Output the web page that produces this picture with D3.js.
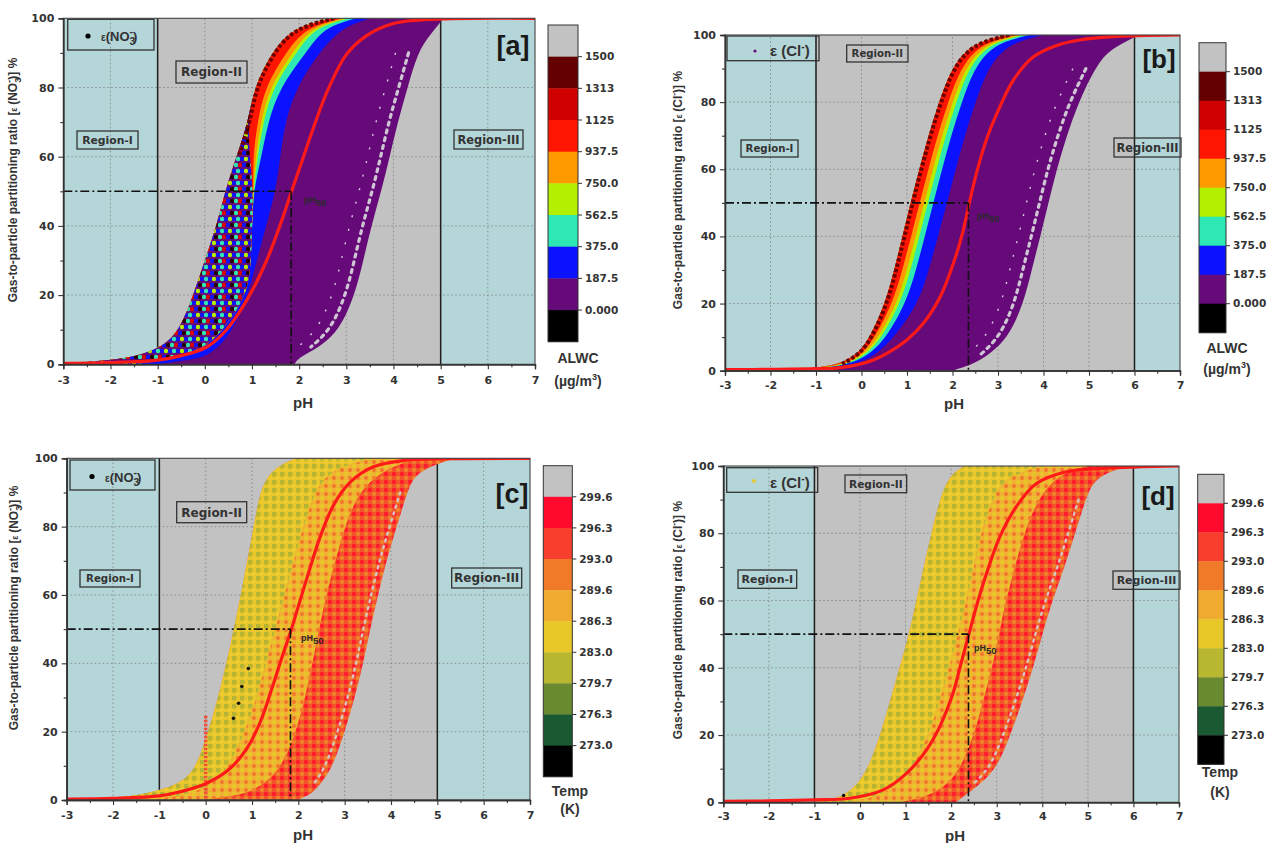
<!DOCTYPE html>
<html>
<head>
<meta charset="utf-8">
<script src="https://cdn.jsdelivr.net/npm/d3@7/dist/d3.min.js"></script>
<style>
 html,body{margin:0;padding:0;background:#fff;}
 text{font-family:"Liberation Sans",Arial,sans-serif;font-weight:bold;fill:#333;}
 text.dv{font-family:"DejaVu Sans",Verdana,sans-serif;}
</style>
</head>
<body>
<svg id="fig" width="1268" height="843"></svg>
<script>
// ---------------- DATA ----------------
const epsLevels = [0,1,2,5,10,20,30,40,50,60,70,80,90,95,98,100];
const pHTicks = [-3,-2,-1,0,1,2,3,4,5,6,7];
const pHMinorTicks = [-2.5,-1.5,-0.5,0.5,1.5,2.5,3.5,4.5,5.5,6.5];
const epsTicks = [0,20,40,60,80,100];
const epsMinorTicks = [10,30,50,70,90];

const alwcLabels = ["1500","1313","1125","937.5","750.0","562.5","375.0","187.5","0.000"];
const alwcColors = ["#c2c2c2","#650000","#d00000","#ff1500","#ff9900","#b3f000","#2de8b4","#0a12ff","#650a78","#000000"];
const tempLabels = ["299.6","296.3","293.0","289.6","286.3","283.0","279.7","276.3","273.0"];
const tempColors = ["#c2c2c2","#ff0a2c","#f83e2c","#f07a28","#f0aa30","#e8c828","#b8b830","#6a8a30","#1a5a32","#000000"];

// panel a : pH of each band boundary at epsLevels
const aEdgeLeft        = [-3.0,-2.2,-1.5,-0.88,-0.53,-0.24,0.0,0.25,0.43,0.67,0.92,1.04,1.42,1.73,2.1,2.7];
const aMixedRight      = [-1.5,-1.0,-0.5,0.0,0.4,0.9,0.98,1.0,1.03,0.95,0.92,1.04,1.42,1.73,2.1,2.7];
const aRedRight        = [-1.5,-1.0,-0.5,0.0,0.4,0.9,0.98,1.0,1.03,1.02,1.12,1.27,1.72,2.0,2.35,2.9];
const aOrangeRight     = [-1.5,-1.0,-0.5,0.0,0.4,0.9,0.98,1.0,1.03,1.08,1.19,1.37,1.86,2.12,2.45,3.0];
const aYellowGreenRight= [-1.5,-1.0,-0.5,0.0,0.4,0.9,0.98,1.0,1.03,1.12,1.24,1.44,1.94,2.2,2.52,3.05];
const aCyanRight       = [-1.5,-1.0,-0.5,0.0,0.4,0.9,0.98,1.0,1.03,1.2,1.34,1.59,2.14,2.4,2.7,3.2];
const aBlueRight       = [-1.0,-0.5,0.0,0.3,0.6,0.92,1.1,1.3,1.5,1.6,1.7,1.94,2.42,2.75,3.05,3.5];
const aPurpleRight     = [1.9,1.95,2.01,2.44,2.86,3.18,3.36,3.53,3.74,3.92,4.09,4.3,4.51,4.76,4.95,5.05];
const aFitPH  = [-3,-2,-1,-0.5,0.04,0.46,0.95,1.31,1.59,1.84,2.08,2.32,2.6,3.0,3.43,4.0,5.0,7.0];
const aFitEps = [0.3,0.5,1.2,2.5,5,10,20,30,40,50,59.5,69,79,89.5,95,98.5,99.8,100];

// panel b
const bEdgeLeft        = [-1.5,-0.9,-0.47,-0.07,0.19,0.52,0.72,0.90,1.08,1.27,1.47,1.70,1.98,2.27,2.60,3.20];
const bRedRight        = [-1.45,-0.85,-0.4,0.02,0.30,0.68,0.90,1.09,1.28,1.47,1.67,1.90,2.18,2.47,2.80,3.40];
const bOrangeRight     = [-1.4,-0.8,-0.35,0.08,0.38,0.78,1.0,1.19,1.38,1.57,1.77,2.00,2.28,2.57,2.90,3.50];
const bYellowGreenRight= [-1.35,-0.75,-0.3,0.13,0.45,0.85,1.08,1.27,1.46,1.65,1.85,2.08,2.36,2.65,2.98,3.58];
const bCyanRight       = [-1.3,-0.7,-0.25,0.2,0.55,0.97,1.2,1.39,1.58,1.77,1.97,2.20,2.48,2.77,3.10,3.70];
const bBlueRight       = [-1.2,-0.55,-0.1,0.35,0.72,1.25,1.48,1.68,1.88,2.07,2.27,2.50,2.78,3.07,3.40,4.00];
const bPurpleRight     = [2.0,2.24,2.45,2.83,3.23,3.56,3.74,3.93,4.11,4.29,4.51,4.77,5.13,5.40,5.80,6.10];
const bFitPH  = [-3,-2,-1,-0.47,0.26,0.99,1.36,1.73,2.02,2.22,2.37,2.53,2.75,3.04,3.34,3.78,4.29,4.8,5.5,7];
const bFitEps = [0.3,0.4,0.6,0.9,3.2,9.1,14.1,22,32,41,50,59,69,78.6,86.6,93.5,96.9,98.5,99.5,100];

// panel c
const cEdgeLeft    = [-2.5,-1.7,-1.2,-0.48,-0.19,0.06,0.27,0.45,0.61,0.76,0.90,1.04,1.17,1.35,1.6,1.95];
const cYellowRight = [-1.2,-0.7,-0.3,0.2,0.5,0.85,1.1,1.3,1.5,1.7,1.9,2.1,2.35,2.6,3.0,3.6];
const cOrangeRight = [0.0,0.5,0.9,1.3,1.65,1.95,2.15,2.3,2.45,2.6,2.8,3.0,3.3,3.7,4.1,4.6];
const cRedRight    = [2.0,2.15,2.3,2.5,2.75,3.0,3.22,3.4,3.55,3.72,3.9,4.12,4.35,4.5,4.9,5.4];
const cFitPH  = [-3,-2,-1,-0.55,0.02,0.53,0.89,1.18,1.43,1.64,1.85,2.04,2.25,2.47,2.76,3.12,3.62,4.34,5.2,7];
const cFitEps = [0.3,0.5,1.2,2.4,4.9,9.3,15.1,22.9,32.7,41.5,50,58.5,67.8,77,86.3,93,97.5,99.5,99.9,100];
const cMarkPH  = [0.92,0.78,0.71,0.6];
const cMarkEps = [38.5,33.2,28.3,23.9];
const cColumnPH  = [0.0,0.0];
const cColumnEps = [0.5,25];

// panel d
const dEdgeLeft    = [-1.0,-0.6,-0.35,-0.07,0.18,0.45,0.66,0.87,1.08,1.24,1.40,1.57,1.75,1.90,2.05,2.3];
const dYellowRight = [-0.3,0.1,0.4,0.8,1.15,1.5,1.75,1.95,2.15,2.33,2.5,2.65,2.9,3.1,3.5,4.0];
const dOrangeRight = [0.9,1.2,1.5,1.9,2.2,2.5,2.7,2.9,3.05,3.2,3.4,3.6,3.9,4.2,4.5,5.0];
const dRedRight    = [2.1,2.2,2.3,2.6,3.0,3.3,3.56,3.8,4.0,4.22,4.49,4.72,4.95,5.1,5.4,5.9];
const dFitPH  = [-3,-2,-1,-0.22,0.51,1.02,1.46,1.75,2.04,2.23,2.39,2.57,2.8,3.07,3.43,3.87,4.53,5.33,7];
const dFitEps = [0.3,0.4,0.7,1.2,3.7,8.6,15.6,22.5,32.4,42,50,59,69,79,87.9,94.8,98.3,99.3,100];
const dMarkPH  = [-0.36];
const dMarkEps = [2.0];

const pH50Values = {a:1.83, b:2.35, c:1.83, d:2.38};
const regionIIIStart = {a:5, b:6, c:5, d:6};

// ---------------- LAYOUT ----------------
const TEAL = "#b4d6d8", GRAY = "#c2c2c2";
const panels = [
 {key:"a", species:"NO3", x0:63.3,x1:535,y0:18.3,y1:364.3, xPad:7, yTitle:[17,180], pHTitle:[303,408],
  regions:[["Region-I",77,131,61,18],["Region-II",176,61,71,22],["Region-III",454,130,69,19]],
  legend:{x:67.7,y:19.3,w:86.3,h:30.7,dx:88,dy:36,dr:2.6,dc:"#000",tx:101,ty:41,es:10,s:13,sp:""},
  tag:["[a]",513,55,27], ph50:[304,203], scheme:"alwc",
  cbar:{x:548,y:25,w:30,h:316.7,t1:"ALWC",t2:"(µg/m",t3:"3",tx:578,ty1:363,ty2:386}},
 {key:"b", species:"Cl", x0:725,x1:1180,y0:35,y1:370.7, xPad:6, yTitle:[682,190], pHTitle:[954,409],
  regions:[["Region-I",741,140,57,17],["Region-II",846.7,45,61.3,17],["Region-III",1114,138,67,19]],
  legend:{x:727,y:36,w:92,h:24.7,dx:755,dy:51,dr:1.6,dc:"#650a78",tx:770,ty:56,es:15,s:15,sp:" "},
  tag:["[b]",1159,68,26], ph50:[977,219], scheme:"alwc",
  cbar:{x:1199,y:42.7,w:27,h:290,t1:"ALWC",t2:"(µg/m",t3:"3",tx:1227,ty1:353,ty2:374}},
 {key:"c", species:"NO3", x0:66.7,x1:530,y0:458.3,y1:800, xPad:6, yTitle:[18,608], pHTitle:[303,840],
  regions:[["Region-I",80,570,60,17],["Region-II",176.7,501.7,70,21],["Region-III",451.7,568,70,20]],
  legend:{x:70,y:460,w:85,h:30,dx:92,dy:476.5,dr:2.6,dc:"#000",tx:105,ty:482,es:10,s:13,sp:""},
  tag:["[c]",512,503,27], ph50:[301,641], scheme:"temp",
  cbar:{x:543.3,y:465.7,w:29,h:311,t1:"Temp",t2:"(K)",t3:"",tx:570,ty1:796,ty2:814}},
 {key:"d", species:"Cl", x0:723.3,x1:1179,y0:466,y1:802.3, xPad:5, yTitle:[682,620], pHTitle:[955,841],
  regions:[["Region-I",738,570,58.7,18.3],["Region-II",845,475,61.7,17.7],["Region-III",1113,571,67,18.3]],
  legend:{x:726.7,y:467.7,w:91,h:24.6,dx:754,dy:481,dr:2,dc:"#e3cc3a",tx:770,ty:488,es:15,s:15,sp:" "},
  tag:["[d]",1158,505,26], ph50:[974,651], scheme:"temp",
  cbar:{x:1197.7,y:474.3,w:26.3,h:290,t1:"Temp",t2:"(K)",t3:"",tx:1220,ty1:777,ty2:797}}
];

const bandSets = {
 a:{ layers:[
     [aEdgeLeft,aPurpleRight,alwcColors[8]],
     [aEdgeLeft,aBlueRight,alwcColors[7]],
     [aEdgeLeft,aCyanRight,alwcColors[6]],
     [aEdgeLeft,aYellowGreenRight,alwcColors[5]],
     [aEdgeLeft,aOrangeRight,alwcColors[4]],
     [aEdgeLeft,aRedRight,alwcColors[3]],
     [aEdgeLeft,aMixedRight,"url(#mixA)"]],
     edge:aEdgeLeft, edgeMin:60, right:aPurpleRight, fitPH:aFitPH, fitEps:aFitEps},
 b:{ layers:[
     [bEdgeLeft,bPurpleRight,alwcColors[8]],
     [bEdgeLeft,bBlueRight,alwcColors[7]],
     [bEdgeLeft,bCyanRight,alwcColors[6]],
     [bEdgeLeft,bYellowGreenRight,alwcColors[5]],
     [bEdgeLeft,bOrangeRight,alwcColors[4]],
     [bEdgeLeft,bRedRight,alwcColors[3]]],
     edge:bEdgeLeft, edgeMin:2, right:bPurpleRight, fitPH:bFitPH, fitEps:bFitEps},
 c:{ layers:[
     [cEdgeLeft,cRedRight,"url(#redPat)"],
     [cEdgeLeft,cOrangeRight,"url(#orangePat)"],
     [cEdgeLeft,cYellowRight,"url(#yellowPat)"]],
     right:cRedRight, fitPH:cFitPH, fitEps:cFitEps, markPH:cMarkPH, markEps:cMarkEps},
 d:{ layers:[
     [dEdgeLeft,dRedRight,"url(#redPat)"],
     [dEdgeLeft,dOrangeRight,"url(#orangePat)"],
     [dEdgeLeft,dYellowRight,"url(#yellowPat)"]],
     right:dRedRight, fitPH:dFitPH, fitEps:dFitEps, markPH:dMarkPH, markEps:dMarkEps}
};

// ---------------- DRAW ----------------
const svg = d3.select("#fig");
const defs = svg.append("defs");

function makePattern(id,w,h,base,dots){
  const p = defs.append("pattern").attr("id",id).attr("patternUnits","userSpaceOnUse").attr("width",w).attr("height",h);
  p.append("rect").attr("width",w).attr("height",h).attr("fill",base);
  dots.forEach(d=>p.append("circle").attr("cx",d[0]).attr("cy",d[1]).attr("r",d[2]).attr("fill",d[3]));
}
makePattern("mixA",16,12,"#650a78",[[2,3,2.2,"#0a12ff"],[6,3,2.2,"#b3f000"],[10,3,2.2,"#0a12ff"],[14,3,2.2,"#2de8b4"],
  [0,9,2.2,"#e00000"],[4,9,2.2,"#0a12ff"],[8,9,2.2,"#220000"],[12,9,2.2,"#2de8b4"],[16,9,2.2,"#e00000"]]);
makePattern("yellowPat",8,8,"#e9c52c",[[2,2,2.6,"#b5b434"],[6,6,1.8,"#f0cf30"]]);
makePattern("orangePat",8,8,"#f0b232",[[2,2,2.2,"#e8c42a"],[6,6,1.9,"#f2742c"]]);
makePattern("redPat",8,8,"#f4542c",[[2,2,2.2,"#ff1c2c"],[6,6,2.0,"#f0882a"]]);

function addSpecies(t, species, size){
  if(species==="NO3"){
    t.append("tspan").text("(NO");
    t.append("tspan").attr("font-size",size*0.8).attr("dy",size*0.3).text("3");
    t.append("tspan").attr("font-size",size*0.8).attr("dx",-size*0.45).attr("dy",-size*0.75).text("-");
    t.append("tspan").attr("dy",size*0.45).text(")");
  } else {
    t.append("tspan").text("(Cl");
    t.append("tspan").attr("font-size",size*0.7).attr("dy",-size*0.4).text("-");
    t.append("tspan").attr("dy",size*0.4).text(")");
  }
}

function bandPoints(left,right){
  return epsLevels.map((e,i)=>({eps:e,l:left[i],r:right[i]})).reverse();
}

panels.forEach(cfg=>{
  const bs = bandSets[cfg.key];
  const x = d3.scaleLinear().domain([-3,7]).range([cfg.x0,cfg.x1]);
  const y = d3.scaleLinear().domain([0,100]).range([cfg.y1,cfg.y0]);
  const g = svg.append("g");
  const clipId = "clip-"+cfg.key;
  defs.append("clipPath").attr("id",clipId).append("rect")
    .attr("x",cfg.x0).attr("y",cfg.y0).attr("width",cfg.x1-cfg.x0).attr("height",cfg.y1-cfg.y0);
  const reg3 = regionIIIStart[cfg.key];
  g.append("rect").attr("x",x(-3)).attr("y",y(100)).attr("width",x(-1)-x(-3)).attr("height",y(0)-y(100)).attr("fill",TEAL);
  g.append("rect").attr("x",x(-1)).attr("y",y(100)).attr("width",x(reg3)-x(-1)).attr("height",y(0)-y(100)).attr("fill",GRAY);
  g.append("rect").attr("x",x(reg3)).attr("y",y(100)).attr("width",x(7)-x(reg3)).attr("height",y(0)-y(100)).attr("fill",TEAL);
  pHTicks.slice(1,-1).forEach(v=>g.append("line").attr("x1",x(v)).attr("x2",x(v)).attr("y1",y(0)).attr("y2",y(100))
    .attr("stroke","#7e7e7e").attr("stroke-width",0.8).attr("stroke-dasharray","1.5,2.5"));
  epsTicks.slice(1,-1).forEach(v=>g.append("line").attr("x1",x(-3)).attr("x2",x(7)).attr("y1",y(v)).attr("y2",y(v))
    .attr("stroke","#7e7e7e").attr("stroke-width",0.8).attr("stroke-dasharray","1.5,2.5"));
  [-1,reg3].forEach(v=>g.append("line").attr("x1",x(v)).attr("x2",x(v)).attr("y1",y(0)).attr("y2",y(100))
    .attr("stroke","#1e1e1e").attr("stroke-width",1.5));

  const dg = g.append("g").attr("clip-path",`url(#${clipId})`);
  const area = d3.area().curve(d3.curveBasis).y(d=>y(d.eps)).x0(d=>x(d.l)).x1(d=>x(d.r));
  const vline = d3.line().curve(d3.curveBasis).x(d=>x(d.v)).y(d=>y(d.eps));
  bs.layers.forEach(L=>{
    dg.append("path").attr("d",area(bandPoints(L[0],L[1]))).attr("fill",L[2]);
  });
  const rightPts = epsLevels.map((e,i)=>({eps:e,v:bs.right[i]})).filter(d=>d.eps>=5 && d.eps<=90).reverse();
  if(cfg.scheme==="alwc"){
    dg.append("path").attr("d",vline(rightPts)).attr("transform","translate(-9,0)")
      .attr("fill","none").attr("stroke","#cfc6d3").attr("stroke-width",3.2).attr("stroke-dasharray","3,5").attr("stroke-linecap","round");
    dg.append("path").attr("d",vline(rightPts)).attr("transform","translate(-22,0)")
      .attr("fill","none").attr("stroke","#d8cce0").attr("stroke-width",1.4).attr("stroke-dasharray","2,12");
    const edgePts = epsLevels.map((e,i)=>({eps:e,v:bs.edge[i]})).filter(d=>d.eps>=bs.edgeMin).reverse();
    dg.append("path").attr("d",vline(edgePts)).attr("transform","translate(2,0)")
      .attr("fill","none").attr("stroke","#6e0000").attr("stroke-width",4).attr("stroke-dasharray","3.5,2");
  } else {
    dg.append("path").attr("d",vline(rightPts)).attr("transform","translate(-7,0)")
      .attr("fill","none").attr("stroke","#d6c6c2").attr("stroke-width",2.4).attr("stroke-dasharray","2,5").attr("stroke-linecap","round");
  }
  if(cfg.key==="c"){
    dg.append("path").attr("d",d3.line().x(d=>x(d[0])).y(d=>y(d[1]))(cColumnPH.map((v,i)=>[v,cColumnEps[i]])))
      .attr("stroke","#f0503a").attr("stroke-width",3.5).attr("stroke-dasharray","2.5,1.5");
  }
  if(bs.markPH){
    bs.markPH.forEach((v,i)=>dg.append("circle").attr("cx",x(v)).attr("cy",y(bs.markEps[i])).attr("r",1.8).attr("fill","#111"));
  }
  const fitLine = d3.line().curve(d3.curveCatmullRom.alpha(0.5)).x(d=>x(d[0])).y(d=>y(d[1]));
  dg.append("path").attr("d",fitLine(bs.fitPH.map((v,i)=>[v,bs.fitEps[i]])))
    .attr("fill","none").attr("stroke","#ff1a1a").attr("stroke-width",3.2);
  const p50 = pH50Values[cfg.key];
  g.append("line").attr("x1",x(-3)).attr("x2",x(p50)).attr("y1",y(50)).attr("y2",y(50))
    .attr("stroke","#111").attr("stroke-width",1.6).attr("stroke-dasharray","9,3,2,3");
  g.append("line").attr("x1",x(p50)).attr("x2",x(p50)).attr("y1",y(50)).attr("y2",y(0))
    .attr("stroke","#111").attr("stroke-width",1.6).attr("stroke-dasharray","9,3,2,3");
  const pl = g.append("text").attr("x",cfg.ph50[0]).attr("y",cfg.ph50[1]).attr("font-size",9).style("fill","#2a2a2a");
  pl.append("tspan").text("pH");
  pl.append("tspan").attr("dy",3).attr("font-size",9.5).text("50");

  cfg.regions.forEach(r=>{
    g.append("rect").attr("x",r[1]).attr("y",r[2]).attr("width",r[3]).attr("height",r[4])
      .attr("fill","none").attr("stroke","#333").attr("stroke-width",1.3);
    g.append("text").attr("class","dv").attr("x",r[1]+r[3]/2).attr("y",r[2]+r[4]/2).attr("dy","0.36em")
      .attr("text-anchor","middle").attr("font-size",Math.min(12,r[4]*0.6)).text(r[0]);
  });
  const lg = cfg.legend;
  g.append("rect").attr("x",lg.x).attr("y",lg.y).attr("width",lg.w).attr("height",lg.h)
    .attr("fill","none").attr("stroke","#333").attr("stroke-width",1.3);
  g.append("circle").attr("cx",lg.dx).attr("cy",lg.dy).attr("r",lg.dr).attr("fill",lg.dc);
  const lt = g.append("text").attr("x",lg.tx).attr("y",lg.ty).attr("font-size",lg.s);
  lt.append("tspan").attr("font-size",lg.es).text("ε"+lg.sp);
  addSpecies(lt,cfg.species,lg.s);
  g.append("text").attr("x",cfg.tag[1]).attr("y",cfg.tag[2]).attr("text-anchor","middle")
    .attr("font-size",cfg.tag[3]).style("fill","#1a1a1a").text(cfg.tag[0]);
  g.append("rect").attr("x",cfg.x0).attr("y",cfg.y0).attr("width",cfg.x1-cfg.x0).attr("height",cfg.y1-cfg.y0)
    .attr("fill","none").attr("stroke","#444").attr("stroke-width",1.1);
  const styleAxis = sel=>{
    sel.select(".domain").attr("stroke","#333").attr("stroke-width",1.3);
    sel.selectAll(".tick line").attr("stroke","#333").attr("stroke-width",1.1);
    sel.selectAll("text").attr("class","dv").attr("font-size",11);
  };
  g.append("g").attr("transform",`translate(0,${cfg.y1})`)
    .call(d3.axisBottom(x).tickValues(pHMinorTicks).tickSize(3).tickFormat("")).call(styleAxis);
  g.append("g").attr("transform",`translate(0,${cfg.y1})`)
    .call(d3.axisBottom(x).tickValues(pHTicks).tickSize(5).tickPadding(cfg.xPad).tickFormat(d=>String(d))).call(styleAxis);
  g.append("g").attr("transform",`translate(${cfg.x0},0)`)
    .call(d3.axisLeft(y).tickValues(epsMinorTicks).tickSize(3).tickFormat("")).call(styleAxis);
  g.append("g").attr("transform",`translate(${cfg.x0},0)`)
    .call(d3.axisLeft(y).tickValues(epsTicks).tickSize(5).tickPadding(4).tickFormat(d=>String(d))).call(styleAxis);
  const yt = g.append("text").attr("transform",`translate(${cfg.yTitle[0]},${cfg.yTitle[1]}) rotate(-90)`)
    .attr("text-anchor","middle").attr("font-size",12);
  yt.append("tspan").text("Gas-to-particle partitioning ratio [");
  yt.append("tspan").attr("font-size",9).text("ε ");
  addSpecies(yt,cfg.species,12);
  yt.append("tspan").text("] %");
  g.append("text").attr("x",cfg.pHTitle[0]).attr("y",cfg.pHTitle[1]).attr("text-anchor","middle")
    .attr("font-size",15).text("pH");

  const cb = cfg.cbar;
  const colors = cfg.scheme==="alwc" ? alwcColors : tempColors;
  const labels = cfg.scheme==="alwc" ? alwcLabels : tempLabels;
  const bh = cb.h/colors.length;
  colors.forEach((c,i)=>svg.append("rect").attr("x",cb.x).attr("y",cb.y+i*bh).attr("width",cb.w).attr("height",bh+0.4).attr("fill",c));
  svg.append("rect").attr("x",cb.x).attr("y",cb.y).attr("width",cb.w).attr("height",cb.h)
    .attr("fill","none").attr("stroke","#333").attr("stroke-width",1);
  labels.forEach((l,i)=>{
    const yy = cb.y+(i+1)*bh;
    svg.append("line").attr("x1",cb.x+cb.w).attr("x2",cb.x+cb.w+4).attr("y1",yy).attr("y2",yy).attr("stroke","#333");
    svg.append("text").attr("class","dv").attr("x",cb.x+cb.w+7).attr("y",yy).attr("dy","0.36em")
      .attr("font-size",10.5).text(l);
  });
  svg.append("text").attr("x",cb.tx).attr("y",cb.ty1).attr("text-anchor","middle").attr("font-size",14).text(cb.t1);
  const t2 = svg.append("text").attr("x",cb.tx).attr("y",cb.ty2).attr("text-anchor","middle").attr("font-size",14);
  t2.append("tspan").text(cb.t2);
  if(cb.t3){
    t2.append("tspan").attr("font-size",9).attr("dy",-6).text(cb.t3);
    t2.append("tspan").attr("dy",6).text(")");
  }
});
</script>
</body>
</html>
